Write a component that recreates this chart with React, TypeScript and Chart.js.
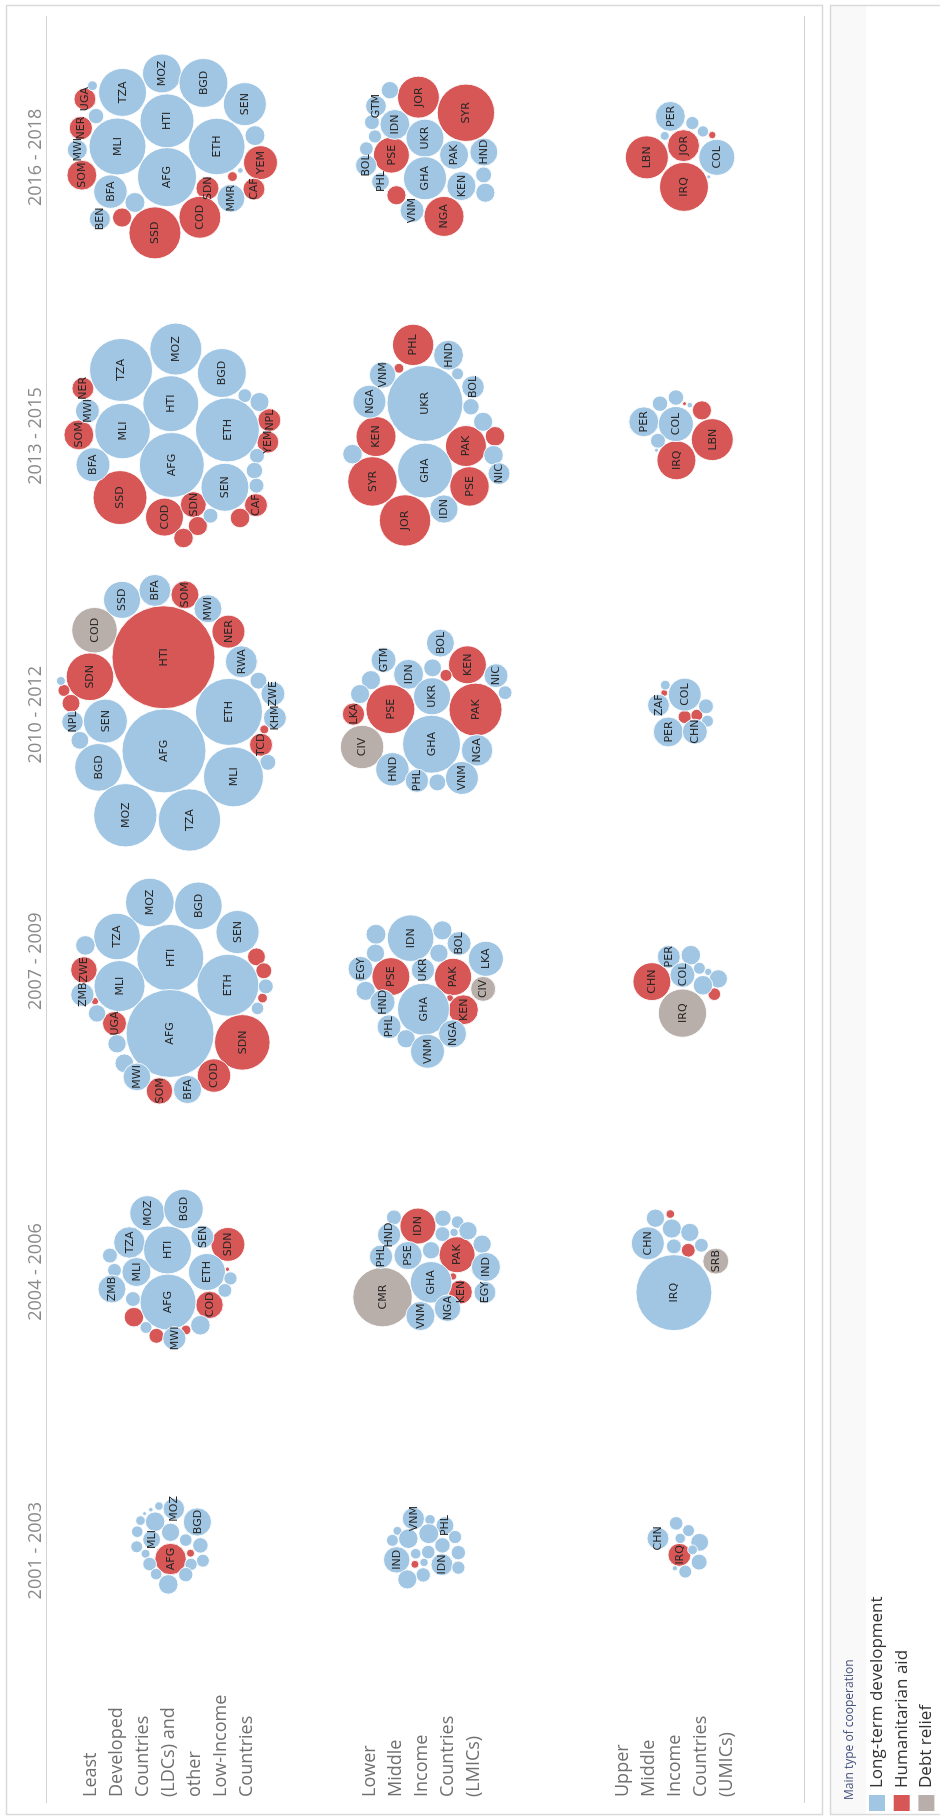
import React, { useEffect, useRef } from 'react';
import { Chart, registerables } from 'chart.js';

Chart.register(...registerables);

// ---------- categories / labels ----------
const PERIODS = ['2001 - 2003', '2004 - 2006', '2007 - 2009', '2010 - 2012', '2013 - 2015', '2016 - 2018'];
const GROUP_LABELS = [
  ['Least', 'Developed', 'Countries', '(LDCs) and', 'other', 'Low-Income', 'Countries'],
  ['Lower', 'Middle', 'Income', 'Countries', '(LMICs)'],
  ['Upper', 'Middle', 'Income', 'Countries', '(UMICs)'],
];
const TYPE_KEYS = ['L', 'H', 'D'];
const TYPE_NAMES = ['Long-term development', 'Humanitarian aid', 'Debt relief'];
const TYPE_COLORS = ['#A0C6E4', '#D75656', '#B8AEAA'];
const LEGEND_TITLE = 'Main type of cooperation';

// ---------- bubbles: [country, type, packed offset along period, packed offset along group, volume] ----------
type B = [string, string, number, number, number];

const ldc2001: B[] = [
  ['MOZ', 'L', 0.150, 0.006, 29], ['BGD', 'L', 0.103, 0.099, 50], ['', 'L', 0.160, -0.053, 4.6],
  ['', 'L', 0.147, -0.085, 1.3], ['', 'L', 0.133, -0.110, 1], ['', 'L', 0.108, -0.126, 5.8],
  ['', 'L', 0.104, -0.068, 24], ['', 'L', 0.068, -0.139, 8.4], ['', 'L', 0.066, -0.007, 21],
  ['MLI', 'L', 0.040, -0.082, 20], ['', 'L', 0.038, 0.053, 10], ['', 'L', 0.019, 0.111, 15],
  ['', 'L', 0.014, -0.141, 9], ['', 'L', -0.011, -0.106, 5], ['AFG', 'H', -0.030, -0.007, 62],
  ['', 'H', -0.009, 0.072, 4], ['', 'L', -0.036, 0.121, 10.6], ['', 'L', -0.048, -0.090, 11.6],
  ['', 'L', -0.049, 0.074, 9.6], ['', 'L', -0.084, -0.064, 8.4], ['', 'L', -0.086, 0.053, 13],
  ['', 'L', -0.121, -0.016, 24],
];
const lmic2001: B[] = [
  ['VNM', 'L', 0.115, -0.046, 31], ['', 'L', 0.111, 0.020, 6.8], ['PHL', 'L', 0.090, 0.079, 20],
  ['', 'L', 0.071, -0.109, 5], ['', 'L', 0.061, 0.015, 25], ['', 'L', 0.043, -0.066, 24],
  ['', 'L', 0.037, -0.129, 9], ['', 'L', 0.049, 0.119, 11], ['', 'L', 0.019, 0.069, 15],
  ['IND', 'L', -0.033, -0.112, 44], ['', 'L', -0.011, -0.037, 7], ['', 'L', -0.005, 0.013, 11.6],
  ['', 'L', -0.007, 0.132, 13], ['', 'L', -0.042, -0.004, 4.4], ['', 'H', -0.049, -0.040, 4],
  ['IDN', 'L', -0.050, 0.067, 30], ['', 'L', -0.061, 0.132, 11], ['', 'L', -0.087, -0.007, 13],
  ['', 'L', -0.103, -0.070, 23],
];
const umic2001: B[] = [
  ['CHN', 'L', 0.044, -0.078, 30], ['', 'L', 0.098, -0.006, 11.6], ['', 'L', 0.072, 0.043, 9],
  ['', 'L', 0.044, 0.010, 6.8], ['', 'L', 0.030, 0.087, 20], ['IRQ', 'H', -0.015, 0.007, 33],
  ['', 'L', -0.041, 0.085, 16], ['', 'L', 0.003, 0.059, 6], ['', 'L', -0.075, 0.030, 10.6],
  ['', 'L', -0.063, -0.011, 1.8],
];

const ldc2004: B[] = [
  ['MOZ', 'L', 0.211, -0.099, 77], ['BGD', 'L', 0.226, 0.044, 98], ['TZA', 'L', 0.106, -0.170, 62],
  ['HTI', 'L', 0.079, -0.019, 144], ['SEN', 'L', 0.126, 0.119, 33], ['SDN', 'H', 0.099, 0.220, 72],
  ['', 'L', 0.059, -0.247, 14], ['', 'L', 0.006, -0.229, 12], ['MLI', 'L', 0, -0.142, 53],
  ['ETH', 'L', 0, 0.137, 86], ['', 'H', 0.010, 0.218, 1.2], ['', 'L', -0.023, 0.230, 11],
  ['ZMB', 'L', -0.061, -0.239, 49], ['', 'L', -0.066, 0.208, 12], ['AFG', 'L', -0.108, -0.017, 196],
  ['', 'L', -0.097, -0.156, 14], ['COD', 'H', -0.118, 0.147, 47], ['', 'H', -0.162, -0.152, 24],
  ['', 'L', -0.199, -0.104, 9], ['', 'L', -0.191, 0.111, 24], ['', 'H', -0.208, 0.054, 6],
  ['', 'H', -0.229, -0.063, 14], ['MWI', 'L', -0.238, 0.008, 34],
];
const lmic2004: B[] = [
  ['', 'L', 0.196, -0.123, 14], ['IDN', 'H', 0.165, -0.028, 81], ['', 'L', 0.193, 0.071, 17],
  ['', 'L', 0.179, 0.129, 10], ['HND', 'L', 0.133, -0.142, 34], ['', 'L', 0.136, 0.069, 14],
  ['', 'L', 0.142, 0.115, 4.4], ['', 'L', 0.148, 0.170, 21], ['', 'L', 0.078, 0.024, 19],
  ['PHL', 'L', 0.055, -0.174, 34], ['PSE', 'L', 0.059, -0.067, 50], ['PAK', 'H', 0.062, 0.127, 81],
  ['', 'L', 0.100, 0.226, 21], ['IND', 'L', 0.018, 0.241, 53], ['CMR', 'D', -0.090, -0.168, 221],
  ['GHA', 'L', -0.037, 0.024, 108], ['', 'H', -0.016, 0.111, 3.4], ['KEN', 'H', -0.072, 0.140, 36],
  ['EGY', 'L', -0.073, 0.237, 30], ['NGA', 'L', -0.130, 0.089, 44], ['VNM', 'L', -0.158, -0.018, 53],
];
const umic2004: B[] = [
  ['', 'L', 0.193, -0.088, 21], ['', 'H', 0.208, -0.029, 4.6], ['', 'L', 0.156, -0.023, 23],
  ['CHN', 'L', 0.103, -0.118, 68], ['', 'L', 0.142, 0.048, 21], ['', 'L', 0.092, -0.015, 14],
  ['', 'H', 0.078, 0.042, 12], ['', 'L', 0.096, 0.094, 12], ['SRB', 'D', 0.039, 0.151, 42],
  ['IRQ', 'L', -0.074, -0.015, 361],
];

const ldc2007: B[] = [
  ['MOZ', 'L', 0.326, -0.089, 148], ['BGD', 'L', 0.314, 0.103, 142], ['TZA', 'L', 0.204, -0.219, 136],
  ['SEN', 'L', 0.220, 0.258, 117], ['HTI', 'L', 0.127, -0.008, 281], ['', 'L', 0.172, -0.344, 24],
  ['', 'H', 0.131, 0.333, 20], ['ZWE', 'H', 0.084, -0.350, 44], ['', 'H', 0.081, 0.362, 16],
  ['MLI', 'L', 0.026, -0.209, 163], ['ETH', 'L', 0.029, 0.220, 240], ['', 'L', 0.025, 0.370, 14],
  ['ZMB', 'L', -0.005, -0.356, 34], ['', 'H', -0.028, -0.306, 3.4], ['', 'H', -0.017, 0.357, 6],
  ['', 'L', -0.054, 0.337, 10], ['', 'L', -0.072, -0.298, 19], ['UGA', 'H', -0.108, -0.229, 36],
  ['AFG', 'L', -0.144, -0.009, 484], ['SDN', 'H', -0.176, 0.277, 193], ['', 'L', -0.181, -0.219, 21],
  ['', 'L', -0.251, -0.190, 22], ['COD', 'H', -0.295, 0.165, 70], ['MWI', 'L', -0.300, -0.140, 48],
  ['SOM', 'H', -0.350, -0.051, 44], ['BFA', 'L', -0.345, 0.060, 50],
];
const lmic2007: B[] = [
  ['IDN', 'L', 0.198, -0.057, 136], ['', 'L', 0.212, -0.194, 25], ['', 'L', 0.226, 0.069, 23],
  ['BOL', 'L', 0.179, 0.135, 36], ['', 'L', 0.144, -0.196, 21], ['', 'L', 0.144, 0.055, 21],
  ['LKA', 'L', 0.124, 0.241, 77], ['EGY', 'L', 0.088, -0.255, 39], ['PSE', 'H', 0.060, -0.135, 90],
  ['UKR', 'L', 0.084, -0.008, 34], ['PAK', 'H', 0.059, 0.111, 87], ['CIV', 'D', 0.016, 0.230, 39],
  ['', 'L', 0.009, -0.235, 23], ['', 'H', -0.017, 0.099, 3], ['HND', 'L', -0.032, -0.168, 39],
  ['GHA', 'L', -0.057, -0.006, 169], ['KEN', 'H', -0.059, 0.152, 56], ['PHL', 'L', -0.120, -0.142, 36],
  ['NGA', 'L', -0.145, 0.109, 49], ['', 'L', -0.163, -0.075, 21], ['VNM', 'L', -0.208, 0.010, 72],
];
const umic2007: B[] = [
  ['PER', 'L', 0.131, -0.035, 33], ['', 'L', 0.137, 0.052, 24], ['CHN', 'H', 0.042, -0.102, 90],
  ['COL', 'L', 0.066, 0.019, 39], ['', 'L', 0.090, 0.086, 9], ['', 'L', 0.077, 0.121, 3.4],
  ['', 'L', 0.052, 0.161, 21], ['', 'L', 0.029, 0.100, 24], ['', 'H', -0.003, 0.145, 10],
  ['IRQ', 'D', -0.071, 0.019, 146],
];

const ldc2010: B[] = [
  ['SSD', 'L', 0.412, -0.199, 86], ['BFA', 'L', 0.446, -0.069, 64], ['SOM', 'H', 0.430, 0.050, 49],
  ['MWI', 'L', 0.380, 0.141, 49], ['COD', 'D', 0.303, -0.308, 130], ['HTI', 'H', 0.206, -0.035, 663],
  ['NER', 'H', 0.298, 0.222, 68], ['RWA', 'L', 0.190, 0.273, 64], ['SDN', 'H', 0.136, -0.326, 142],
  ['', 'L', 0.121, -0.441, 5], ['', 'H', 0.087, -0.429, 9], ['', 'H', 0.041, -0.401, 20],
  ['', 'L', 0.122, 0.341, 18], ['ZWE', 'L', 0.075, 0.398, 36], ['KHM', 'L', -0.012, 0.406, 33],
  ['ETH', 'L', 0.010, 0.224, 281], ['NPL', 'L', -0.026, -0.395, 29], ['SEN', 'L', -0.023, -0.265, 121],
  ['', 'H', -0.053, 0.364, 5], ['TCD', 'H', -0.108, 0.351, 33], ['', 'L', -0.092, -0.366, 20],
  ['AFG', 'L', -0.130, -0.033, 441], ['BGD', 'L', -0.189, -0.292, 142], ['', 'L', -0.171, 0.378, 16],
  ['MLI', 'L', -0.223, 0.242, 225], ['MOZ', 'L', -0.361, -0.186, 251], ['TZA', 'L', -0.378, 0.068, 243],
];
const lmic2010: B[] = [
  ['BOL', 'L', 0.257, 0.061, 49], ['GTM', 'L', 0.196, -0.164, 39], ['KEN', 'H', 0.179, 0.168, 90],
  ['IDN', 'L', 0.145, -0.065, 56], ['', 'L', 0.168, 0.030, 20], ['', 'H', 0.141, 0.083, 9],
  ['NIC', 'L', 0.140, 0.281, 36], ['', 'L', 0.124, -0.214, 23], ['', 'L', 0.074, -0.257, 23],
  ['UKR', 'L', 0.066, 0.028, 86], ['PSE', 'H', 0.020, -0.137, 150], ['', 'L', 0.079, 0.317, 12],
  ['PAK', 'H', 0.018, 0.200, 176], ['LKA', 'H', 0.002, -0.283, 31], ['CIV', 'D', -0.116, -0.249, 118],
  ['GHA', 'L', -0.106, 0.026, 210], ['NGA', 'L', -0.128, 0.206, 62], ['HND', 'L', -0.196, -0.129, 70],
  ['PHL', 'L', -0.237, -0.032, 34], ['', 'L', -0.243, 0.049, 18], ['VNM', 'L', -0.227, 0.146, 68],
];
const umic2010: B[] = [
  ['', 'L', 0.106, -0.049, 6], ['COL', 'L', 0.072, 0.028, 68], ['', 'H', 0.078, -0.053, 3],
  ['ZAF', 'L', 0.034, -0.076, 30], ['', 'L', 0.030, 0.112, 14], ['', 'H', -0.008, 0.028, 11],
  ['', 'H', -0.002, 0.076, 9], ['', 'L', -0.023, 0.118, 9], ['PER', 'L', -0.062, -0.037, 56],
  ['CHN', 'L', -0.061, 0.068, 39],
];

const ldc2013: B[] = [
  ['MOZ', 'L', 0.312, 0.014, 169], ['TZA', 'L', 0.237, -0.203, 248], ['BGD', 'L', 0.226, 0.196, 150],
  ['NER', 'H', 0.171, -0.354, 30], ['MWI', 'L', 0.090, -0.336, 36], ['HTI', 'L', 0.116, -0.006, 196],
  ['', 'L', 0.145, 0.287, 12], ['', 'L', 0.122, 0.345, 23], ['SOM', 'H', 0.004, -0.370, 56],
  ['MLI', 'L', 0.018, -0.197, 193], ['ETH', 'L', 0.022, 0.218, 256], ['NPL', 'H', 0.057, 0.384, 33],
  ['YEM', 'H', -0.022, 0.378, 30], ['BFA', 'L', -0.103, -0.314, 72], ['AFG', 'L', -0.104, -0.002, 264],
  ['', 'L', -0.071, 0.335, 14], ['', 'L', -0.124, 0.325, 17], ['', 'L', -0.178, 0.333, 14],
  ['SSD', 'H', -0.221, -0.207, 182], ['SEN', 'L', -0.184, 0.208, 144], ['CAF', 'H', -0.248, 0.331, 33],
  ['COD', 'H', -0.291, -0.031, 90], ['SDN', 'H', -0.246, 0.083, 42], ['', 'L', -0.286, 0.151, 14],
  ['', 'H', -0.323, 0.101, 23], ['', 'H', -0.294, 0.268, 24], ['', 'H', -0.366, 0.044, 24],
];
const lmic2013: B[] = [
  ['PHL', 'H', 0.327, -0.047, 107], ['HND', 'L', 0.290, 0.093, 56], ['VNM', 'L', 0.219, -0.168, 44],
  ['', 'H', 0.243, -0.103, 6], ['', 'L', 0.223, 0.129, 9], ['BOL', 'L', 0.176, 0.190, 32],
  ['UKR', 'L', 0.117, 0, 361], ['NGA', 'L', 0.123, -0.220, 68], ['', 'L', 0.105, 0.182, 17],
  ['', 'L', 0.051, 0.230, 23], ['KEN', 'H', -0.002, -0.194, 100], ['', 'H', -0.001, 0.277, 24],
  ['PAK', 'H', -0.036, 0.162, 105], ['', 'L', -0.065, -0.287, 24], ['', 'L', -0.069, 0.271, 24],
  ['GHA', 'L', -0.124, 0, 189], ['NIC', 'L', -0.135, 0.293, 30], ['SYR', 'H', -0.163, -0.208, 153],
  ['PSE', 'H', -0.181, 0.176, 97], ['IDN', 'L', -0.262, 0.075, 50], ['JOR', 'H', -0.303, -0.079, 165],
];
const umic2013: B[] = [
  ['', 'L', 0.138, -0.007, 15], ['', 'L', 0.116, -0.070, 15], ['', 'H', 0.116, 0.027, 1],
  ['', 'L', 0.111, 0.048, 2], ['', 'H', 0.092, 0.096, 23], ['PER', 'L', 0.051, -0.134, 56],
  ['COL', 'L', 0.043, -0.007, 77], ['LBN', 'H', -0.013, 0.137, 110], ['', 'L', -0.017, -0.078, 14],
  ['', 'L', -0.051, -0.084, 1], ['IRQ', 'H', -0.087, -0.005, 95],
];

const ldc2016: B[] = [
  ['MOZ', 'L', 0.301, -0.041, 95], ['BGD', 'L', 0.267, 0.123, 150], ['TZA', 'L', 0.233, -0.197, 144],
  ['SEN', 'L', 0.191, 0.287, 116], ['HTI', 'L', 0.131, -0.021, 182], ['', 'L', 0.257, -0.316, 6],
  ['UGA', 'H', 0.209, -0.346, 30], ['', 'L', 0.148, -0.302, 15], ['NER', 'H', 0.105, -0.362, 34],
  ['MWI', 'L', 0.027, -0.376, 25], ['MLI', 'L', 0.039, -0.217, 203], ['ETH', 'L', 0.039, 0.176, 200],
  ['', 'L', 0.078, 0.327, 25], ['SOM', 'H', -0.064, -0.358, 56], ['AFG', 'L', -0.071, -0.021, 218],
  ['YEM', 'H', -0.019, 0.349, 72], ['BFA', 'L', -0.123, -0.245, 70], ['SDN', 'H', -0.111, 0.139, 33],
  ['', 'H', -0.069, 0.238, 6], ['', 'L', -0.047, 0.269, 2], ['CAF', 'H', -0.114, 0.323, 30],
  ['MMR', 'L', -0.147, 0.232, 49], ['', 'L', -0.162, -0.148, 25], ['BEN', 'L', -0.221, -0.287, 28],
  ['', 'H', -0.216, -0.199, 23], ['SSD', 'H', -0.271, -0.069, 169], ['COD', 'H', -0.215, 0.109, 110],
];
const lmic2016: B[] = [
  ['', 'L', 0.241, -0.139, 19], ['GTM', 'L', 0.184, -0.194, 27], ['JOR', 'H', 0.216, -0.026, 110],
  ['SYR', 'H', 0.160, 0.162, 206], ['IDN', 'L', 0.118, -0.119, 56], ['', 'L', 0.126, -0.210, 14],
  ['', 'L', 0.075, -0.198, 11], ['UKR', 'L', 0.069, 0, 90], ['PSE', 'H', 0.008, -0.133, 81],
  ['BOL', 'L', -0.029, -0.233, 28], ['', 'L', 0.031, -0.232, 12], ['PAK', 'L', 0.009, 0.115, 53],
  ['HND', 'L', 0.019, 0.233, 49], ['GHA', 'L', -0.075, 0, 116], ['PHL', 'L', -0.087, -0.176, 20],
  ['KEN', 'L', -0.103, 0.144, 53], ['', 'L', -0.063, 0.232, 16], ['', 'L', -0.127, 0.239, 23],
  ['', 'H', -0.136, -0.113, 23], ['VNM', 'L', -0.191, -0.051, 36], ['NGA', 'H', -0.212, 0.075, 100],
];
const umic2016: B[] = [
  ['PER', 'L', 0.147, -0.029, 56], ['', 'L', 0.123, 0.058, 11], ['', 'L', 0.093, 0.100, 8],
  ['', 'H', 0.080, 0.137, 3.4], ['', 'L', 0.077, -0.051, 5], ['LBN', 'H', 0, -0.122, 116],
  ['JOR', 'H', 0.042, 0.023, 64], ['COL', 'L', 0, 0.155, 81], ['IRQ', 'H', -0.106, 0.025, 150],
  ['', 'L', -0.070, 0.123, 1],
];

const CELLS = [
  { period: 0, group: 0, bubbles: ldc2001 }, { period: 0, group: 1, bubbles: lmic2001 }, { period: 0, group: 2, bubbles: umic2001 },
  { period: 1, group: 0, bubbles: ldc2004 }, { period: 1, group: 1, bubbles: lmic2004 }, { period: 1, group: 2, bubbles: umic2004 },
  { period: 2, group: 0, bubbles: ldc2007 }, { period: 2, group: 1, bubbles: lmic2007 }, { period: 2, group: 2, bubbles: umic2007 },
  { period: 3, group: 0, bubbles: ldc2010 }, { period: 3, group: 1, bubbles: lmic2010 }, { period: 3, group: 2, bubbles: umic2010 },
  { period: 4, group: 0, bubbles: ldc2013 }, { period: 4, group: 1, bubbles: lmic2013 }, { period: 4, group: 2, bubbles: umic2013 },
  { period: 5, group: 0, bubbles: ldc2016 }, { period: 5, group: 1, bubbles: lmic2016 }, { period: 5, group: 2, bubbles: umic2016 },
];

const RADIUS_PER_SQRT = 2; // bubble area proportional to volume

// Chart is drawn in landscape and the whole view is turned a quarter turn (as in the reference)
const W = 1817;
const H = 940;

const decorPlugin = {
  id: 'decor',
  beforeDraw(chart: any) {
    const ctx = chart.ctx;
    ctx.save();
    ctx.fillStyle = '#ffffff';
    ctx.fillRect(0, 0, W, H);
    // main pane frame
    ctx.strokeStyle = '#d9d9d9';
    ctx.lineWidth = 1.5;
    ctx.strokeRect(2.5, 6.5, 1809, 816);
    // legend pane
    ctx.fillStyle = '#f9f9f9';
    ctx.fillRect(3, 831, 1808, 35);
    ctx.strokeRect(2.5, 830.5, 1809, 140);
    // header rules
    ctx.strokeStyle = '#d2d2d2';
    ctx.lineWidth = 1.2;
    ctx.beginPath();
    ctx.moveTo(14, 46.5); ctx.lineTo(1801, 46.5);
    ctx.moveTo(14, 804.5); ctx.lineTo(1801, 804.5);
    ctx.stroke();
    ctx.restore();
  },
  afterDatasetsDraw(chart: any) {
    const ctx = chart.ctx;
    ctx.save();
    ctx.font = '11px "DejaVu Sans", "Liberation Sans", sans-serif';
    ctx.fillStyle = '#262626';
    ctx.textAlign = 'center';
    ctx.textBaseline = 'middle';
    chart.data.datasets.forEach((ds: any, i: number) => {
      const meta = chart.getDatasetMeta(i);
      meta.data.forEach((el: any, j: number) => {
        const code = ds.data[j].code;
        if (code) ctx.fillText(code, el.x, el.y + 0.5);
      });
    });
    ctx.restore();
  },
  afterDraw(chart: any) {
    const ctx = chart.ctx;
    const xs = chart.scales.x;
    const ys = chart.scales.y;
    ctx.save();
    // period headers (the 2007 - 2009 header sits slightly off-centre in the original view)
    ctx.font = '18px "Open Sans", sans-serif';
    ctx.fillStyle = '#8a8a8a';
    ctx.textAlign = 'center';
    ctx.textBaseline = 'middle';
    PERIODS.forEach((p, i) => {
      const shift = i === 2 ? 0.115 : 0;
      ctx.fillText(p, xs.getPixelForValue(i + 0.5 + shift), 36);
    });
    // group row labels
    ctx.font = '18px "Open Sans", sans-serif';
    ctx.fillStyle = '#707070';
    ctx.textAlign = 'left';
    GROUP_LABELS.forEach((lines, g) => {
      const cy = ys.getPixelForValue(g + 0.5) - 3;
      lines.forEach((ln, k) => {
        ctx.fillText(ln, 20, cy + (k - (lines.length - 1) / 2) * 26);
      });
    });
    // legend
    ctx.font = '12px "Open Sans", sans-serif';
    ctx.fillStyle = '#44507a';
    ctx.fillText(LEGEND_TITLE, 17, 850);
    ctx.font = '17px "Open Sans", sans-serif';
    TYPE_NAMES.forEach((name, i) => {
      const cy = 877 + i * 24.7;
      ctx.fillStyle = TYPE_COLORS[i];
      ctx.fillRect(6, cy - 8, 16, 16);
      ctx.fillStyle = '#333333';
      ctx.fillText(name, 29, cy);
    });
    ctx.restore();
  },
};

export default function App() {
  const ref = useRef<HTMLCanvasElement>(null);

  useEffect(() => {
    const canvas = ref.current;
    if (!canvas) return;
    const datasets = TYPE_KEYS.map((k, i) => ({
      label: TYPE_NAMES[i],
      data: [] as any[],
      backgroundColor: TYPE_COLORS[i],
      borderColor: 'rgba(255,255,255,0.9)',
      borderWidth: 1,
      hoverRadius: 0,
      clip: false as any,
    }));
    CELLS.forEach((cell) => {
      cell.bubbles.forEach(([code, t, dx, dy, v]) => {
        const idx = TYPE_KEYS.indexOf(t);
        datasets[idx].data.push({
          x: cell.period + 0.5 + dx,
          y: cell.group + 0.5 + dy,
          r: RADIUS_PER_SQRT * Math.sqrt(v),
          code,
        });
      });
    });

    const chart = new Chart(canvas, {
      type: 'bubble',
      data: { datasets },
      options: {
        animation: false,
        responsive: false,
        devicePixelRatio: 1,
        events: [],
        layout: { autoPadding: false, padding: { left: 127, right: 18, top: 46, bottom: 136 } },
        scales: {
          x: { type: 'linear', min: 0, max: PERIODS.length, display: false },
          y: { type: 'linear', min: 0, max: GROUP_LABELS.length, reverse: true, display: false },
        },
        plugins: { legend: { display: false }, tooltip: { enabled: false } },
      },
      plugins: [decorPlugin],
    });
    return () => chart.destroy();
  }, []);

  return (
    <div style={{ position: 'absolute', left: 0, top: 0, width: H, height: W, overflow: 'hidden', background: '#fff' }}>
      <div
        style={{
          position: 'absolute',
          left: 0,
          top: 0,
          width: W,
          height: H,
          transformOrigin: '0 0',
          transform: `translateY(${W}px) rotate(-90deg)`,
        }}
      >
        <canvas ref={ref} width={W} height={H} style={{ display: 'block', width: W, height: H }} />
      </div>
    </div>
  );
}
